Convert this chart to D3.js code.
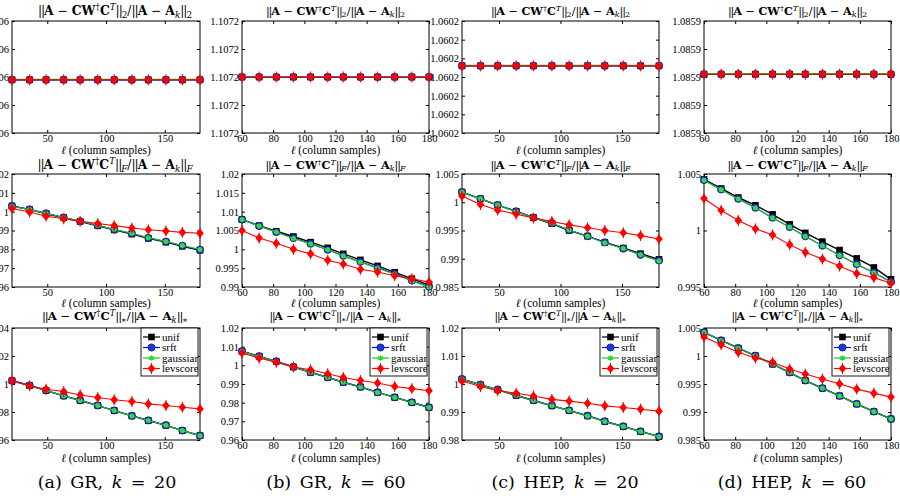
<!DOCTYPE html>
<html><head><meta charset="utf-8">
<script src="https://cdn.jsdelivr.net/npm/d3@7"></script>
<style>
body{margin:0;background:#fff}
svg{display:block}
</style>
</head><body>
<svg id="c" width="900" height="496"></svg>
<script>
// ---------------- DATA ----------------
const seriesNames = ["unif", "srft", "gaussian", "levscore"];
const ell20 = [20, 35, 49, 64, 78, 93, 107, 122, 136, 151, 165, 180];
const ell60 = [60, 71, 82, 93, 104, 115, 125, 136, 147, 158, 169, 180];
const xTicks20 = [50, 100, 150];
const xTicks60 = [60, 80, 100, 120, 140, 160, 180];
const captionData = ["(a) GR, ", "(b) GR, ", "(c) HEP, ", "(d) HEP, "];
const captionK = ["20", "60", "20", "60"];

// Row 1: spectral norm ratio
const a1_unif = [1.070599,1.070599,1.070599,1.070599,1.070599,1.070599,1.070599,1.070599,1.070599,1.070599,1.070599,1.070599];
const a1_srft = [1.070599,1.070599,1.070599,1.070599,1.070599,1.070599,1.070599,1.070599,1.070599,1.070599,1.070599,1.070599];
const a1_gauss = [1.0705992,1.0705992,1.0705992,1.0705992,1.0705992,1.0705992,1.0705992,1.0705992,1.0705992,1.0705992,1.0705992,1.0705992];
const a1_lev = [1.070599,1.070599,1.070599,1.070599,1.070599,1.070599,1.070599,1.070599,1.070599,1.070599,1.070599,1.070599];
const a1_yTicks = [1.07058, 1.07059, 1.0706, 1.07061, 1.07062];
const a1_yLabels = ["1.0706","1.0706","1.0706","1.0706","1.0706"];

const b1_unif = [1.1072,1.1072,1.1072,1.1072,1.1072,1.1072,1.1072,1.1072,1.1072,1.1072,1.1072,1.1072];
const b1_srft = [1.1072,1.1072,1.1072,1.1072,1.1072,1.1072,1.1072,1.1072,1.1072,1.1072,1.1072,1.1072];
const b1_gauss = [1.1072002,1.1072002,1.1072002,1.1072002,1.1072002,1.1072002,1.1072002,1.1072002,1.1072002,1.1072002,1.1072002,1.1072002];
const b1_lev = [1.1072,1.1072,1.1072,1.1072,1.1072,1.1072,1.1072,1.1072,1.1072,1.1072,1.1072,1.1072];
const b1_yTicks = [1.10718, 1.10719, 1.1072, 1.10721, 1.10722];
const b1_yLabels = ["1.1072","1.1072","1.1072","1.1072","1.1072"];

const c1_unif = [1.060206,1.060206,1.060206,1.060206,1.060206,1.060206,1.060206,1.060206,1.060206,1.060206,1.060206,1.060206];
const c1_srft = [1.060206,1.060206,1.060206,1.060206,1.060206,1.060206,1.060206,1.060206,1.060206,1.060206,1.060206,1.060206];
const c1_gauss = [1.0602063,1.0602063,1.0602063,1.0602063,1.0602063,1.0602063,1.0602063,1.0602063,1.0602063,1.0602063,1.0602063,1.0602063];
const c1_lev = [1.060206,1.060206,1.060206,1.060206,1.060206,1.060206,1.060206,1.060206,1.060206,1.060206,1.060206,1.060206];
const c1_yTicks = [1.06017, 1.06018, 1.06019, 1.0602, 1.06021, 1.06022, 1.06023];
const c1_yLabels = ["1.0602","1.0602","1.0602","1.0602","1.0602","1.0602","1.0602"];

const d1_unif = [1.085901,1.085901,1.085901,1.085901,1.085901,1.085901,1.085901,1.085901,1.085901,1.085901,1.085901,1.085901];
const d1_srft = [1.085901,1.085901,1.085901,1.085901,1.085901,1.085901,1.085901,1.085901,1.085901,1.085901,1.085901,1.085901];
const d1_gauss = [1.0859012,1.0859012,1.0859012,1.0859012,1.0859012,1.0859012,1.0859012,1.0859012,1.0859012,1.0859012,1.0859012,1.0859012];
const d1_lev = [1.085901,1.085901,1.085901,1.085901,1.085901,1.085901,1.085901,1.085901,1.085901,1.085901,1.085901,1.085901];
const d1_yTicks = [1.08588, 1.08589, 1.0859, 1.08591, 1.08592];
const d1_yLabels = ["1.0859","1.0859","1.0859","1.0859","1.0859"];

// Row 2: Frobenius norm ratio
const a2_unif = [1.0030,1.0011,0.9989,0.9968,0.9948,0.9925,0.9903,0.9881,0.9858,0.9838,0.9816,0.9795];
const a2_srft = [1.0030,1.0012,0.9991,0.9969,0.9949,0.9927,0.9905,0.9884,0.9861,0.9841,0.9819,0.9798];
const a2_gauss = [1.0029,1.0011,0.9990,0.9969,0.9950,0.9927,0.9906,0.9885,0.9862,0.9842,0.9820,0.9799];
const a2_lev = [1.0017,0.9998,0.9976,0.9962,0.9949,0.9937,0.9926,0.9913,0.9904,0.9897,0.9890,0.9885];
const a2_yTicks = [0.96, 0.97, 0.98, 0.99, 1, 1.01, 1.02];
const a2_yLabels = ["0.96","0.97","0.98","0.99","1","1.01","1.02"];

const b2_unif = [1.0079,1.0063,1.0048,1.0034,1.0019,1.0004,0.9988,0.9972,0.9956,0.9939,0.9922,0.9905];
const b2_srft = [1.0079,1.0062,1.0046,1.0030,1.0015,0.9999,0.9983,0.9967,0.9951,0.9935,0.9917,0.9901];
const b2_gauss = [1.0079,1.0062,1.0046,1.0029,1.0014,0.9999,0.9982,0.9966,0.9950,0.9934,0.9916,0.9900];
const b2_lev = [1.0050,1.0030,1.0016,1.0000,0.9988,0.9971,0.9961,0.9947,0.9940,0.9930,0.9922,0.9913];
const b2_yTicks = [0.99, 0.995, 1, 1.005, 1.01, 1.015, 1.02];
const b2_yLabels = ["0.99","0.995","1","1.005","1.01","1.015","1.02"];

const c2_unif = [1.0018,1.0006,0.9995,0.9984,0.9973,0.9962,0.9950,0.9940,0.9929,0.9919,0.9909,0.9899];
const c2_srft = [1.0018,1.0006,0.9995,0.9984,0.9973,0.9963,0.9951,0.9940,0.9929,0.9918,0.9907,0.9897];
const c2_gauss = [1.0018,1.0006,0.9995,0.9983,0.9973,0.9963,0.9951,0.9940,0.9928,0.9918,0.9907,0.9896];
const c2_lev = [1.0011,0.9996,0.9986,0.9979,0.9972,0.9966,0.9960,0.9955,0.9950,0.9946,0.9941,0.9935];
const c2_yTicks = [0.985, 0.99, 0.995, 1, 1.005];
const c2_yLabels = ["0.985","0.99","0.995","1","1.005"];

const d2_unif = [1.00452,1.00372,1.00292,1.00223,1.00143,1.00054,0.99979,0.99902,0.99827,0.99753,0.99673,0.99568];
const d2_srft = [1.00446,1.00363,1.00280,1.00202,1.00113,1.00030,0.99949,0.99866,0.99780,0.99702,0.99628,0.99545];
const d2_gauss = [1.00444,1.00361,1.00278,1.00200,1.00111,1.00028,0.99947,0.99864,0.99778,0.99700,0.99626,0.99543];
const d2_lev = [1.00283,1.00179,1.00089,1.00015,0.99961,0.99875,0.99807,0.99747,0.99685,0.99619,0.99583,0.99533];
const d2_yTicks = [0.995, 1, 1.005];
const d2_yLabels = ["0.995","1","1.005"];

// Row 3: nuclear norm ratio
const a3_unif = [1.0023,0.9989,0.9953,0.9915,0.9882,0.9846,0.9810,0.9772,0.9739,0.9705,0.9667,0.9631];
const a3_srft = [1.0024,0.9990,0.9954,0.9916,0.9883,0.9847,0.9811,0.9773,0.9740,0.9706,0.9668,0.9632];
const a3_gauss = [1.0023,0.9989,0.9953,0.9915,0.9882,0.9846,0.9810,0.9772,0.9739,0.9705,0.9667,0.9631];
const a3_lev = [1.0023,0.9987,0.9963,0.9946,0.9922,0.9903,0.9887,0.9875,0.9858,0.9846,0.9834,0.9822];
const a3_yTicks = [0.96, 0.98, 1, 1.02, 1.04];
const a3_yLabels = ["0.96","0.98","1","1.02","1.04"];

const b3_unif = [1.0075,1.0048,1.0021,0.9991,0.9962,0.9935,0.9909,0.9884,0.9855,0.9828,0.9801,0.9774];
const b3_srft = [1.0076,1.0049,1.0022,0.9992,0.9963,0.9936,0.9910,0.9885,0.9856,0.9829,0.9802,0.9775];
const b3_gauss = [1.0075,1.0048,1.0021,0.9991,0.9962,0.9935,0.9909,0.9884,0.9855,0.9828,0.9801,0.9774];
const b3_lev = [1.0066,1.0039,1.0016,0.9991,0.9976,0.9955,0.9935,0.9919,0.9905,0.9887,0.9875,0.9864];
const b3_yTicks = [0.96, 0.97, 0.98, 0.99, 1, 1.01, 1.02];
const b3_yLabels = ["0.96","0.97","0.98","0.99","1","1.01","1.02"];

const c3_unif = [1.0017,0.9997,0.9979,0.9959,0.9941,0.9922,0.9905,0.9886,0.9866,0.9848,0.9830,0.9812];
const c3_srft = [1.0018,0.9998,0.9980,0.9960,0.9942,0.9923,0.9906,0.9887,0.9867,0.9849,0.9831,0.9813];
const c3_gauss = [1.0017,0.9997,0.9979,0.9959,0.9941,0.9922,0.9905,0.9886,0.9866,0.9848,0.9830,0.9812];
const c3_lev = [1.0011,0.9991,0.9976,0.9967,0.9957,0.9945,0.9939,0.9931,0.9922,0.9916,0.9910,0.9903];
const c3_yTicks = [0.98, 0.99, 1, 1.01, 1.02];
const c3_yLabels = ["0.98","0.99","1","1.01","1.02"];

const d3_unif = [1.00422,1.00279,1.00140,1.00004,0.99854,0.99705,0.99561,0.99424,0.99287,0.99143,0.99006,0.98875];
const d3_srft = [1.00424,1.00281,1.00142,1.00006,0.99856,0.99707,0.99563,0.99426,0.99289,0.99145,0.99008,0.98877];
const d3_gauss = [1.00422,1.00279,1.00140,1.00004,0.99854,0.99705,0.99561,0.99424,0.99287,0.99143,0.99006,0.98875];
const d3_lev = [1.00340,1.00203,1.00066,0.99964,0.99887,0.99767,0.99678,0.99588,0.99504,0.99409,0.99337,0.99266];
const d3_yTicks = [0.985, 0.99, 0.995, 1, 1.005];
const d3_yLabels = ["0.985","0.99","0.995","1","1.005"];

// ---------------- PANEL TABLE (built from the arrays) ----------------
const panels = [
  {col:0,row:0,x:ell20,xt:xTicks20,yt:a1_yTicks,yl:a1_yLabels,s:[a1_unif,a1_srft,a1_gauss,a1_lev]},
  {col:1,row:0,x:ell60,xt:xTicks60,yt:b1_yTicks,yl:b1_yLabels,s:[b1_unif,b1_srft,b1_gauss,b1_lev]},
  {col:2,row:0,x:ell20,xt:xTicks20,yt:c1_yTicks,yl:c1_yLabels,s:[c1_unif,c1_srft,c1_gauss,c1_lev]},
  {col:3,row:0,x:ell60,xt:xTicks60,yt:d1_yTicks,yl:d1_yLabels,s:[d1_unif,d1_srft,d1_gauss,d1_lev]},
  {col:0,row:1,x:ell20,xt:xTicks20,yt:a2_yTicks,yl:a2_yLabels,s:[a2_unif,a2_srft,a2_gauss,a2_lev]},
  {col:1,row:1,x:ell60,xt:xTicks60,yt:b2_yTicks,yl:b2_yLabels,s:[b2_unif,b2_srft,b2_gauss,b2_lev]},
  {col:2,row:1,x:ell20,xt:xTicks20,yt:c2_yTicks,yl:c2_yLabels,s:[c2_unif,c2_srft,c2_gauss,c2_lev]},
  {col:3,row:1,x:ell60,xt:xTicks60,yt:d2_yTicks,yl:d2_yLabels,s:[d2_unif,d2_srft,d2_gauss,d2_lev]},
  {col:0,row:2,x:ell20,xt:xTicks20,yt:a3_yTicks,yl:a3_yLabels,s:[a3_unif,a3_srft,a3_gauss,a3_lev]},
  {col:1,row:2,x:ell60,xt:xTicks60,yt:b3_yTicks,yl:b3_yLabels,s:[b3_unif,b3_srft,b3_gauss,b3_lev]},
  {col:2,row:2,x:ell20,xt:xTicks20,yt:c3_yTicks,yl:c3_yLabels,s:[c3_unif,c3_srft,c3_gauss,c3_lev]},
  {col:3,row:2,x:ell60,xt:xTicks60,yt:d3_yTicks,yl:d3_yLabels,s:[d3_unif,d3_srft,d3_gauss,d3_lev]}
];

// ---------------- LAYOUT ----------------
const colX = [[12,200],[242,429],[462,659],[704,891]];
const rowY = [[21,133],[174,287],[328,440]];
const titleBase = [15, 169, 320];
const titleSize = [11.2, 11.2, 10.6];
const titleColScale = [1.1, 1, 1, 1];
const titleColShift = [9, 0, 0, 0];
const normSub = [["2",""],["F","i"],["\u2217",""]];
const xlabBase = [154, 307, 462];
const captionX = [107, 336, 565, 792];
const colors = {unif:"#000000", srft:"#0000ff", gaussian:"#1fc41f", levscore:"#ff0000"};
const SERIF = '"Liberation Serif","DejaVu Serif",serif';
const WIDE = '"DejaVu Serif","Liberation Serif",serif';

const svg = d3.select("#c");

function drawMarker(g, name, cx, cy, legend) {
  if (name === "unif") {
    g.append("rect").attr("x",cx-3.3).attr("y",cy-3.3).attr("width",6.6).attr("height",6.6).attr("fill","#000");
  } else if (name === "srft") {
    g.append("circle").attr("cx",cx).attr("cy",cy).attr("r",3.6).attr("fill","#1a3ad8").attr("stroke","#0a1a80").attr("stroke-width",0.8);
  } else if (name === "gaussian") {
    if (legend) {
      g.append("path").attr("transform",`translate(${cx},${cy})`)
        .attr("d", d3.symbol(d3.symbolAsterisk, 22)()).attr("stroke","#22dd22").attr("stroke-width",1.3).attr("fill","none");
      g.append("circle").attr("cx",cx).attr("cy",cy).attr("r",1.6).attr("fill","#22dd22");
    } else {
      g.append("circle").attr("cx",cx).attr("cy",cy).attr("r",2.5).attr("fill","#3ad83a");
    }
  } else {
    g.append("path").attr("d",`M${cx},${cy-4.6}L${cx+3.8},${cy}L${cx},${cy+4.6}L${cx-3.8},${cy}Z`).attr("fill","#ff0000");
    g.append("line").attr("x1",cx).attr("x2",cx).attr("y1",cy-5.5).attr("y2",cy+5.5).attr("stroke","#ff0000").attr("stroke-width",1);
  }
}

function addTitle(row, col, cx) {
  const sub = normSub[row];
  const parts = [
    ["||","n"],["A","b"],[" \u2212 ",""],["CW","b"],["\u2020","sup"],["C","b"],["T","supi"],["||","n"],[sub[0],"sub"+sub[1]],
    ["/",""],["||","n"],["A","b"],[" \u2212 ",""],["A","b"],["k","subi"],["||","n"],[sub[0],"sub"+sub[1]]
  ];
  const fs = titleSize[row] * titleColScale[col];
  const t = svg.append("text").attr("x",cx + titleColShift[col]).attr("y",titleBase[row]).attr("text-anchor","middle")
    .attr("font-size",fs).attr("font-family",WIDE).attr("fill","#000");
  let off = 0;
  parts.forEach(([s, k]) => {
    let target = 0, size = fs, weight = null, style = null;
    if (k === "b") weight = "bold";
    if (k.startsWith("sup")) { target = -fs*0.38; size = fs*0.72; }
    if (k.startsWith("sub")) { target = fs*0.22; size = fs*0.72; }
    if (k.endsWith("i")) style = "italic";
    const ts = t.append("tspan").attr("dy", target - off).attr("font-size", size).text(s);
    if (k === "n") ts.attr("letter-spacing", -1.1);
    if (weight) ts.attr("font-weight", weight);
    if (style) ts.attr("font-style", style);
    off = target;
  });
}

panels.forEach((p, idx) => {
  const [l, r] = colX[p.col];
  const [tp, bt] = rowY[p.row];
  const x = d3.scaleLinear().domain([p.x[0], p.x[p.x.length-1]]).range([l, r]);
  const y = d3.scaleLinear().domain([p.yt[0], p.yt[p.yt.length-1]]).range([bt, tp]);
  const g = svg.append("g");

  g.append("rect").attr("x",l).attr("y",tp).attr("width",r-l).attr("height",bt-tp)
    .attr("fill","none").attr("stroke","#000").attr("stroke-width",1);

  const styleAxis = sel => {
    sel.attr("font-family",SERIF).attr("font-size",10.5);
    sel.select(".domain").remove();
    sel.selectAll("line").attr("stroke","#000");
    sel.selectAll("text").attr("fill","#000");
  };
  g.append("g").attr("transform",`translate(0,${bt})`)
    .call(d3.axisBottom(x).tickValues(p.xt).tickSizeInner(-3).tickSizeOuter(0).tickPadding(2).tickFormat(d3.format("d")))
    .call(styleAxis);
  g.append("g").attr("transform",`translate(0,${tp})`)
    .call(d3.axisTop(x).tickValues(p.xt).tickSizeInner(-3).tickSizeOuter(0).tickFormat(""))
    .call(styleAxis);
  g.append("g").attr("transform",`translate(${l},0)`)
    .call(d3.axisLeft(y).tickValues(p.yt).tickSizeInner(-3).tickSizeOuter(0).tickPadding(3).tickFormat((d,i)=>p.yl[i]))
    .call(styleAxis);
  g.append("g").attr("transform",`translate(${r},0)`)
    .call(d3.axisRight(y).tickValues(p.yt).tickSizeInner(-3).tickSizeOuter(0).tickFormat(""))
    .call(styleAxis);

  const line = d3.line().x((d,i)=>x(p.x[i])).y(d=>y(d));
  p.s.forEach((vals, si) => {
    const name = seriesNames[si];
    g.append("path").datum(vals).attr("d", line).attr("fill","none")
      .attr("stroke", colors[name]).attr("stroke-width", name === "unif" ? 1.4 : 1.1);
    const mg = g.append("g");
    vals.forEach((v, i) => drawMarker(mg, name, x(p.x[i]), y(v), false));
  });

  addTitle(p.row, p.col, (l + r) / 2);
  const xl = svg.append("text").attr("x",(l+r)/2).attr("y",xlabBase[p.row]).attr("text-anchor","middle")
    .attr("font-size",11.5).attr("font-family",SERIF).attr("fill","#000");
  xl.append("tspan").attr("font-style","italic").text("\u2113");
  xl.append("tspan").text(" (column samples)");

  if (p.row === 2) {
    const bw = 57, bh = 48;
    const bx = r - 2 - bw, by = tp;
    const clipId = "lc" + idx;
    svg.append("clipPath").attr("id", clipId).append("rect").attr("x",bx).attr("y",by).attr("width",bw).attr("height",bh);
    const lg = svg.append("g");
    lg.append("rect").attr("x",bx).attr("y",by).attr("width",bw).attr("height",bh)
      .attr("fill","#fff").attr("stroke","#000").attr("stroke-width",0.9);
    seriesNames.forEach((name, i) => {
      const yy = by + 9 + i * 10.5;
      lg.append("line").attr("x1",bx+2).attr("x2",bx+19).attr("y1",yy).attr("y2",yy)
        .attr("stroke",colors[name]).attr("stroke-width",1.2);
      drawMarker(lg, name, bx+10.5, yy, true);
      lg.append("text").attr("x",bx+21).attr("y",yy).attr("dy","0.35em").attr("font-size",11)
        .attr("font-family",SERIF).attr("fill","#000").attr("clip-path",`url(#${clipId})`).text(name);
    });
  }
});

captionData.forEach((c, i) => {
  const t = svg.append("text").attr("x",captionX[i]).attr("y",488).attr("text-anchor","middle")
    .attr("font-size",17.5).attr("font-family",WIDE).attr("fill","#000").attr("word-spacing",3);
  t.append("tspan").text(c);
  t.append("tspan").attr("font-style","italic").text("k");
  t.append("tspan").text(" = " + captionK[i]);
});
</script>
</body></html>
